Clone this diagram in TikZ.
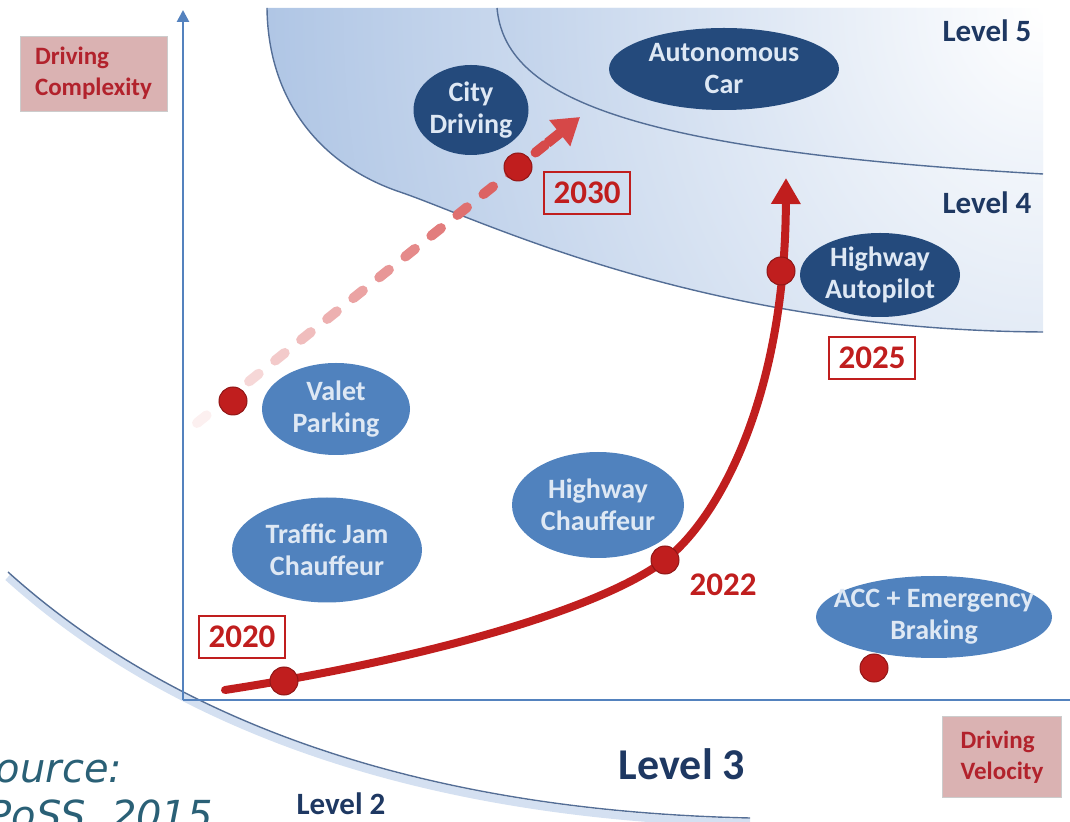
\documentclass[tikz,border=0pt]{standalone}
\usepackage{fontspec}
\setmainfont{Carlito}
\newfontfamily\srcfont{DejaVu Sans}
\usetikzlibrary{shapes.geometric,arrows.meta,calc}
\definecolor{lvlblue}{RGB}{112,152,208}
\definecolor{lvlline}{RGB}{84,110,150}
\definecolor{axisblue}{RGB}{84,130,190}
\definecolor{darkell}{RGB}{36,74,124}
\definecolor{lightell}{RGB}{80,130,190}
\definecolor{elltext}{RGB}{222,232,244}
\definecolor{roadred}{RGB}{192,30,30}
\definecolor{dashred}{RGB}{214,72,72}
\definecolor{labpink}{RGB}{218,178,178}
\definecolor{labred}{RGB}{178,34,44}
\definecolor{lvltext}{RGB}{30,56,98}
\definecolor{srcteal}{RGB}{42,96,118}

\begin{document}
\begin{tikzpicture}[x=0.5pt,y=-0.5pt,font=\bfseries,
    task/.style={ellipse,inner xsep=-10pt,inner ysep=-8pt,align=center,text=elltext,
      font=\bfseries\fontsize{14}{16}\selectfont},
    darktask/.style={task,fill=darkell},
    lighttask/.style={task,fill=lightell},
    yearbox/.style={draw=roadred,line width=1.4pt,text=roadred,inner sep=0pt,
      minimum width=43pt,minimum height=21pt,font=\bfseries\fontsize{16.5}{18}\selectfont},
    milestone/.style={circle,fill=roadred,draw=roadred!75!black,line width=0.5pt,
      inner sep=0pt,minimum size=14pt},
    axislab/.style={fill=labpink,draw=gray!40,text=labred,align=left,inner sep=0pt,
      font=\bfseries\fontsize{12.5}{15.5}\selectfont},
    level/.style={text=lvltext,inner sep=0pt,font=\bfseries\fontsize{15.5}{18}\selectfont},
    bound/.style={draw=lvlline,line width=0.7pt},
    asse/.style={draw=axisblue,line width=1.3pt},
    dashbit/.style={line width=5pt,line cap=round}]
  \useasboundingbox (0,0) rectangle (1070,822);

  % fasce dei livelli 4 e 5
  \path[path picture={\shade[inner color=white,outer color=lvlblue] (1043,8) ellipse [x radius=1400,y radius=1700];}]
    (267,8) .. controls (268,100) and (320,165) .. (400,192)
    .. controls (480,219) and (700,330) .. (1043,332) -- (1043,8) -- cycle;
  \path[path picture={\shade[inner color=white,outer color=lvlblue] (1043,8) ellipse [x radius=1250,y radius=1400];}]
    (497,8) .. controls (505,95) and (620,150) .. (1043,174) -- (1043,8) -- cycle;
  \draw[bound] (267,8) .. controls (268,100) and (320,165) .. (400,192)
    .. controls (480,219) and (700,330) .. (1043,332); %bordo livello 4
  \draw[bound] (497,8) .. controls (505,95) and (620,150) .. (1043,174); %bordo livello 5
  \draw[lvlblue!60,line width=4pt,opacity=0.5,shift={(0,5)}] (8,572) .. controls (150,700) and (380,810) .. (750,818); %ombra
  \draw[bound] (8,572) .. controls (150,700) and (380,810) .. (750,818); %bordo livello 3

  % assi
  \coordinate (orig) at (183,700);
  \coordinate (ytop) at (183,10);
  \coordinate (xend) at (1070,700);
  \draw[asse,-{Triangle[width=6pt,length=6pt]}] (orig) -- (ytop); %asse y
  \draw[asse] (orig) -- (xend); %asse x
  \node[axislab,minimum width=73.5pt,minimum height=37.5pt] (cplx) at (93.5,73.5) {Driving\\Complexity};
  \node[axislab,minimum width=59.5pt,minimum height=40.5pt] (velo) at (1002,757) {Driving\\Velocity};

  % livelli
  \node[level] (lv5) at (987,31) {Level 5};
  \node[level] (lv4) at (987,203) {Level 4};
  \node[level,font=\bfseries\fontsize{22}{24}\selectfont] (lv3) at (682,764) {Level 3};
  \node[level] (lv2) at (341,804) {Level 2};

  % funzioni
  \node[darktask,minimum width=57.5pt,minimum height=45pt] (city) at (471,110) {City\\Driving};
  \node[darktask,minimum width=115pt,minimum height=41pt] (autocar) at (724,69) {Autonomous\\Car};
  \node[darktask,minimum width=80pt,minimum height=42pt] (hwyauto) at (880,275) {Highway\\Autopilot};
  \node[lighttask,minimum width=74pt,minimum height=46pt] (valet) at (336,409) {Valet\\Parking};
  \node[lighttask,minimum width=95pt,minimum height=52.5pt] (tjam) at (327,550) {Traffic Jam\\Chauffeur};
  \node[lighttask,minimum width=86pt,minimum height=53pt] (hwych) at (598,505) {Highway\\Chauffeur};
  \node[lighttask,minimum width=118pt,minimum height=41pt] (acc) at (934,617) {ACC + Emergency\\Braking};

  % percorso tratteggiato
  \coordinate (dashA) at (197,423);
  \coordinate (dashB) at (580,117);
  \foreach \k in {0,...,13}{
    \pgfmathtruncatemacro{\p}{8+7*\k}
    \pgfmathsetmacro{\s}{\k*0.068}
    \pgfmathsetmacro{\e}{\k*0.068+0.025}
    \draw[dashbit,dashred!\p!white] ($(dashA)!\s!(dashB)$) -- ($(dashA)!\e!(dashB)$);
  }
  \draw[dashred,line width=5pt,-{Triangle[width=16pt,length=13pt]}] ($(dashA)!0.915!(dashB)$) -- (dashB);

  % percorso principale
  \coordinate (rstart) at (225,690);
  \coordinate (p2022) at (665,560);
  \coordinate (rtip) at (786,178);
  \draw[roadred,line width=4pt,line cap=round,-{Triangle[width=14pt,length=13pt]}]
    (rstart) .. controls (420,660) and (600,610) .. (p2022)
    .. controls (717,520) and (785,400) .. (rtip);

  \node[milestone] (dot2020) at (284,681) {};
  \node[milestone] (dot2022) at (p2022) {};
  \node[milestone] (dot2025) at (781,271) {};
  \node[milestone] (dot2030) at (518,167) {};
  \node[milestone] (dotvalet) at (233,401) {};
  \node[milestone] (dotacc) at (874,668) {};

  \node[yearbox] (y2020) at (242,637) {2020};
  \node[yearbox] (y2030) at (587,193) {2030};
  \node[yearbox] (y2025) at (872,358) {2025};
  \node[text=roadred,inner sep=0pt,font=\bfseries\fontsize{16.5}{18}\selectfont] (y2022) at (723,585) {2022};

  % fonte
  \node[anchor=base west,inner sep=0pt,text=srcteal,font=\srcfont\itshape\fontsize{20}{24}\selectfont] (src1) at (-30,782) {Source:};
  \node[anchor=base west,inner sep=0pt,text=srcteal,font=\srcfont\itshape\fontsize{20}{24}\selectfont] (src2) at (-38,829) {EPoSS, 2015};
\end{tikzpicture}
\end{document}
